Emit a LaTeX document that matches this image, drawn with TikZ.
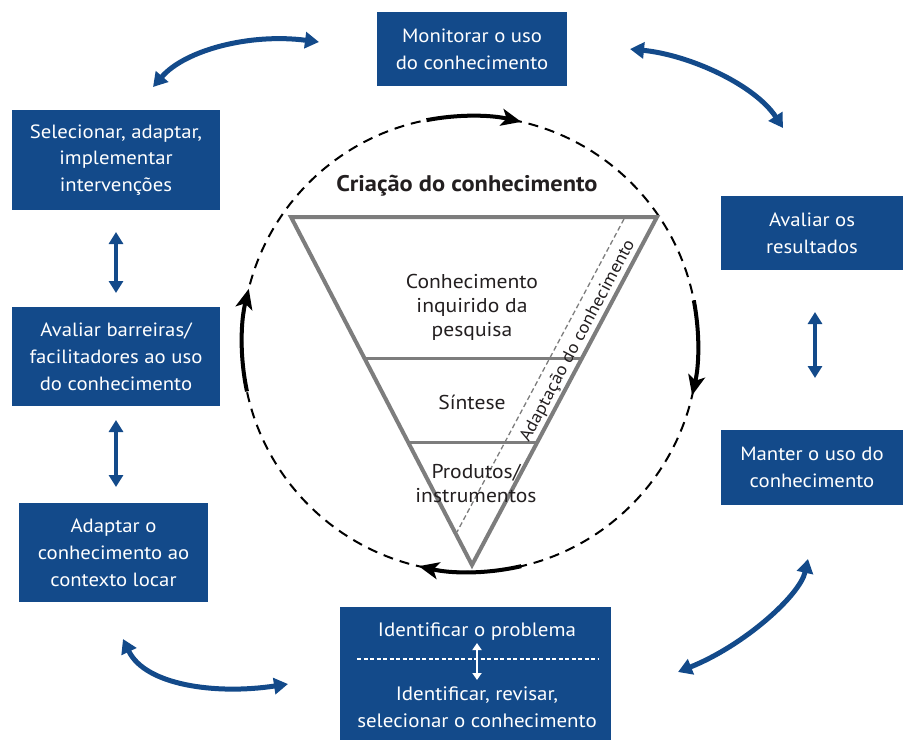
\documentclass[tikz,border=0pt]{standalone}
\usepackage{fontspec}
\setmainfont{PT Sans}[FakeStretch=1.08]
\usetikzlibrary{arrows.meta,calc}
\definecolor{boxblue}{HTML}{134A8A}
\definecolor{trigray}{HTML}{7D7D7D}
\definecolor{txt}{HTML}{231F20}
\begin{document}
\begin{tikzpicture}[x=1pt,y=1pt,
  bluebox/.style={fill=boxblue, text=white, align=center, inner sep=0pt,
    font=\fontsize{19.2}{26.8}\selectfont},
  bluearrow/.style={draw=boxblue, line width=5pt,
    {Triangle[width=16pt,length=14pt]}-{Triangle[width=16pt,length=14pt]}},
  vertarrow/.style={draw=boxblue, line width=4pt,
    {Triangle[width=14pt,length=12pt]}-{Triangle[width=14pt,length=12pt]}},
  circarrow/.style={draw=black, line width=4pt, -{Stealth[length=20pt,width=17pt,inset=5pt]}},
  tri/.style={draw=trigray, line width=4pt},
  tritext/.style={text=txt, align=center, font=\fontsize{20}{24}\selectfont}
]
\useasboundingbox (0,0) rectangle (903,-740);

% boxes
\node[bluebox, minimum width=190pt, minimum height=74pt] (mon) at (472,-49) {Monitorar o uso\\do conhecimento};
\node[bluebox, minimum width=208pt, minimum height=100pt] (sel) at (116,-160) {Selecionar, adaptar,\\implementar\\intervenções};
\node[bluebox, minimum width=208pt, minimum height=99pt] (bar) at (116,-356.5) {Avaliar barreiras/\\facilitadores ao uso\\do conhecimento};
\node[bluebox, minimum width=189pt, minimum height=99pt] (ada) at (113.5,-552.5) {Adaptar o\\conhecimento ao\\contexto locar};
\node[bluebox, minimum width=182pt, minimum height=74pt] (res) at (812,-233) {Avaliar os\\resultados};
\node[bluebox, minimum width=182pt, minimum height=75pt] (man) at (812,-467.5) {Manter o uso do\\conhecimento};
\node[bluebox, minimum width=271pt, minimum height=133pt] (idb) at (475.5,-673.5) {};
\node[text=white, font=\fontsize{19.4}{26.5}\selectfont] (prob) at (477,-632) {Identificar o problema};
\node[text=white, align=center, font=\fontsize{19.4}{26.5}\selectfont] (rev) at (477,-707) {Identificar, revisar,\\selecionar o conhecimento};
\coordinate (dl) at (357,-659);
\coordinate (dr) at (598,-659);
\draw[white, line width=1.4pt, dash pattern=on 4pt off 2.5pt] (dl) -- (dr);
\coordinate (wa) at (477,-643);
\coordinate (wb) at (477,-680);
\draw[white, line width=2.5pt, {Triangle[width=9pt,length=7pt]}-{Triangle[width=9pt,length=7pt]}] (wa) -- (wb);

% vertical arrows
\coordinate (v1a) at (116,-232);
\coordinate (v1b) at (116,-293);
\coordinate (v2a) at (116,-420);
\coordinate (v2b) at (116,-487);
\coordinate (v3a) at (815,-312);
\coordinate (v3b) at (815,-378);
\draw[vertarrow] (v1a) -- (v1b);
\draw[vertarrow] (v2a) -- (v2b);
\draw[vertarrow] (v3a) -- (v3b);

% curved blue arrows
\coordinate (c1a) at (153,-87);
\coordinate (c1b) at (319,-42);
\draw[bluearrow] (c1a) .. controls (185,-50) and (250,-33) .. (c1b);
\coordinate (c2a) at (630,-49);
\coordinate (c2b) at (783,-128);
\draw[bluearrow] (c2a) .. controls (690,-55) and (755,-85) .. (c2b);
\coordinate (c3a) at (808,-559);
\coordinate (c3b) at (678,-672);
\draw[bluearrow] (c3a) .. controls (800,-595) and (745,-645) .. (c3b);
\coordinate (c4a) at (123,-639);
\coordinate (c4b) at (288,-684);
\draw[bluearrow] (c4a) .. controls (145,-685) and (215,-695) .. (c4b);

% dashed circle
\coordinate (C) at (470,-344);
\draw[black, line width=2pt, dash pattern=on 10pt off 7pt] (C) circle[radius=228pt];

% circle arrows
\draw[circarrow] ($(C)+(101:228pt)$) arc[start angle=101, end angle=77, radius=228pt];
\draw[circarrow] ($(C)+(11:228pt)$) arc[start angle=11, end angle=-13, radius=228pt];
\draw[circarrow] ($(C)+(-77:228pt)$) arc[start angle=-77, end angle=-103, radius=228pt];
\draw[circarrow] ($(C)+(192:228pt)$) arc[start angle=192, end angle=166, radius=228pt];

% triangle
\coordinate (TL) at (291,-217);
\coordinate (TR) at (657,-217);
\coordinate (B) at (472,-565);
\draw[tri, line join=miter] (TL) -- (TR) -- (B) -- cycle;
\draw[trigray, line width=3pt] ($(TL)!0.408!(B)$) -- ($(TR)!0.408!(B)$);
\draw[trigray, line width=3pt] ($(TL)!0.6466!(B)$) -- ($(TR)!0.6466!(B)$);
\coordinate (da) at (624,-219);
\coordinate (db) at (457,-532);
\draw[trigray, line width=1.3pt, dash pattern=on 5pt off 3pt] (da) -- (db);

% texts
\node[text=txt, font=\fontsize{22.6}{26}\selectfont\bfseries] (cria) at (467,-186) {Criação do conhecimento};
\node[tritext] (conh) at (472,-307) {Conhecimento\\inquirido da\\pesquisa};
\node[tritext] (sint) at (472,-402) {Síntese};
\node[tritext] (prod) at (476,-483) {Produtos/\\instrumentos};
\node[text=txt, font=\fontsize{17.3}{20}\selectfont, rotate=62] (adap) at (578,-341) {Adaptação do conhecimento};
\end{tikzpicture}
\end{document}
